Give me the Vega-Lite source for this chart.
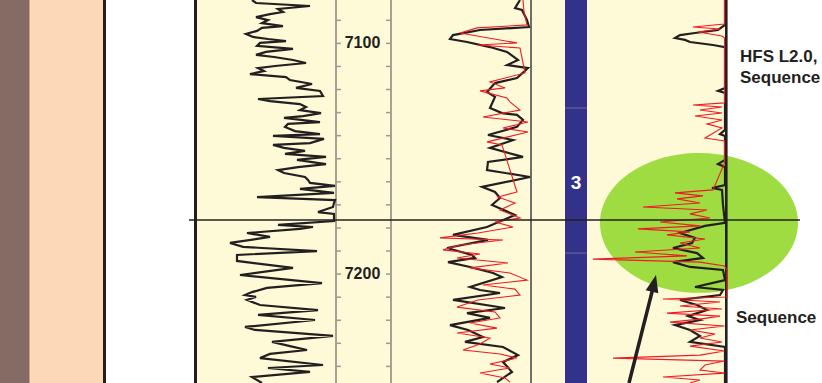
{
"$schema":"https://vega.github.io/schema/vega-lite/v6.json",
"width":822,"height":383,
"autosize":{"type":"none"},
"padding":0,
"background":"white",
"config":{"view":{"stroke":null}},
"datasets":{
"zones":[{"zone":"facies A","x0":0,"x1":29},{"zone":"facies B","x0":29,"x1":103},{"zone":"border L","x0":103,"x1":106},{"zone":"border R","x0":194,"x1":197},{"zone":"log panel","x0":197,"x1":726},{"zone":"sequence 3","x0":565,"x1":587}],
"ticks":[{"d":7090},{"d":7100},{"d":7110},{"d":7120},{"d":7130},{"d":7140},{"d":7150},{"d":7160},{"d":7170},{"d":7180},{"d":7190},{"d":7200},{"d":7210},{"d":7220},{"d":7230},{"d":7240}],
"gr":[{"d":7081.2,"v":252},{"d":7082.5,"v":256},{"d":7083.8,"v":310},{"d":7085.1,"v":278},{"d":7086.4,"v":283},{"d":7087.3,"v":270},{"d":7088.6,"v":256},{"d":7089.9,"v":268},{"d":7091.2,"v":262},{"d":7092.5,"v":283},{"d":7093.3,"v":262},{"d":7094.6,"v":257},{"d":7095.9,"v":246},{"d":7097.2,"v":253},{"d":7098.1,"v":268},{"d":7099.0,"v":286},{"d":7099.8,"v":260},{"d":7101.1,"v":257},{"d":7102.4,"v":293},{"d":7103.7,"v":266},{"d":7105.0,"v":256},{"d":7105.9,"v":274},{"d":7107.2,"v":293},{"d":7108.5,"v":306},{"d":7109.8,"v":275},{"d":7110.7,"v":258},{"d":7112.0,"v":264},{"d":7113.3,"v":250},{"d":7114.6,"v":286},{"d":7115.9,"v":290},{"d":7117.6,"v":312},{"d":7119.3,"v":296},{"d":7120.6,"v":320},{"d":7122.8,"v":323},{"d":7124.1,"v":258},{"d":7125.0,"v":270},{"d":7126.3,"v":300},{"d":7127.6,"v":306},{"d":7128.9,"v":300},{"d":7130.2,"v":321},{"d":7131.5,"v":303},{"d":7132.3,"v":284},{"d":7134.1,"v":320},{"d":7134.9,"v":288},{"d":7136.2,"v":285},{"d":7138.0,"v":295},{"d":7139.3,"v":320},{"d":7140.1,"v":273},{"d":7141.4,"v":324},{"d":7143.2,"v":310},{"d":7144.0,"v":273},{"d":7145.3,"v":284},{"d":7146.6,"v":305},{"d":7147.9,"v":285},{"d":7149.2,"v":326},{"d":7150.5,"v":297},{"d":7152.3,"v":326},{"d":7153.6,"v":298},{"d":7154.9,"v":278},{"d":7156.2,"v":284},{"d":7157.9,"v":305},{"d":7159.2,"v":308},{"d":7160.5,"v":310},{"d":7161.8,"v":335},{"d":7163.1,"v":300},{"d":7164.8,"v":334},{"d":7166.6,"v":257},{"d":7167.9,"v":335},{"d":7169.2,"v":334},{"d":7170.9,"v":333},{"d":7173.1,"v":318},{"d":7173.9,"v":334},{"d":7177.0,"v":334},{"d":7178.7,"v":278},{"d":7179.6,"v":313},{"d":7180.4,"v":300},{"d":7182.2,"v":247},{"d":7183.9,"v":270},{"d":7186.5,"v":230},{"d":7188.2,"v":243},{"d":7190.0,"v":317},{"d":7191.7,"v":237},{"d":7194.3,"v":237},{"d":7197.3,"v":293},{"d":7200.4,"v":240},{"d":7203.9,"v":322},{"d":7206.0,"v":267},{"d":7207.8,"v":252},{"d":7209.1,"v":245},{"d":7209.9,"v":256},{"d":7211.2,"v":247},{"d":7213.4,"v":260},{"d":7215.6,"v":318},{"d":7217.7,"v":258},{"d":7219.9,"v":315},{"d":7222.9,"v":245},{"d":7224.2,"v":255},{"d":7226.8,"v":333},{"d":7229.4,"v":272},{"d":7231.2,"v":290},{"d":7232.9,"v":307},{"d":7234.6,"v":270},{"d":7236.4,"v":260},{"d":7239.4,"v":323},{"d":7240.7,"v":268},{"d":7242.4,"v":310},{"d":7244.6,"v":252},{"d":7247.2,"v":262}],
"t2b":[{"d":7081.2,"v":520},{"d":7084.7,"v":515},{"d":7085.5,"v":522},{"d":7089.9,"v":527},{"d":7092.9,"v":529},{"d":7094.2,"v":480},{"d":7096.4,"v":453},{"d":7098.1,"v":450},{"d":7099.4,"v":467},{"d":7101.6,"v":490},{"d":7103.7,"v":507},{"d":7107.2,"v":518},{"d":7109.4,"v":507},{"d":7110.7,"v":528},{"d":7115.0,"v":517},{"d":7117.2,"v":495},{"d":7121.1,"v":487},{"d":7123.2,"v":495},{"d":7128.0,"v":490},{"d":7130.2,"v":502},{"d":7131.0,"v":517},{"d":7133.2,"v":523},{"d":7136.2,"v":517},{"d":7139.7,"v":488},{"d":7141.9,"v":513},{"d":7145.3,"v":490},{"d":7149.2,"v":523},{"d":7151.4,"v":488},{"d":7154.9,"v":487},{"d":7157.9,"v":530},{"d":7162.2,"v":482},{"d":7164.4,"v":495},{"d":7167.0,"v":500},{"d":7170.0,"v":492},{"d":7174.4,"v":515},{"d":7179.6,"v":487},{"d":7183.0,"v":453},{"d":7185.2,"v":488},{"d":7188.7,"v":447},{"d":7191.7,"v":472},{"d":7193.0,"v":475},{"d":7194.8,"v":448},{"d":7196.9,"v":470},{"d":7199.5,"v":493},{"d":7201.3,"v":502},{"d":7205.6,"v":470},{"d":7206.9,"v":480},{"d":7208.2,"v":500},{"d":7211.2,"v":453},{"d":7214.7,"v":505},{"d":7216.9,"v":467},{"d":7219.0,"v":490},{"d":7222.1,"v":450},{"d":7224.2,"v":468},{"d":7227.3,"v":483},{"d":7229.4,"v":465},{"d":7231.6,"v":503},{"d":7235.1,"v":518},{"d":7238.1,"v":503},{"d":7242.4,"v":512},{"d":7246.8,"v":497}],
"t2r":[{"d":7081.2,"v":523},{"d":7086.4,"v":524},{"d":7092.0,"v":527},{"d":7093.3,"v":477},{"d":7095.5,"v":460},{"d":7099.8,"v":517},{"d":7100.7,"v":478},{"d":7102.0,"v":520},{"d":7112.8,"v":525},{"d":7116.7,"v":490},{"d":7119.3,"v":505},{"d":7120.6,"v":480},{"d":7123.7,"v":507},{"d":7125.4,"v":510},{"d":7128.9,"v":520},{"d":7131.9,"v":483},{"d":7134.1,"v":528},{"d":7136.7,"v":503},{"d":7138.4,"v":528},{"d":7142.7,"v":487},{"d":7144.0,"v":502},{"d":7164.4,"v":517},{"d":7166.6,"v":498},{"d":7169.2,"v":515},{"d":7172.2,"v":500},{"d":7175.7,"v":520},{"d":7177.4,"v":495},{"d":7179.6,"v":513},{"d":7182.2,"v":478},{"d":7184.3,"v":440},{"d":7185.2,"v":503},{"d":7187.4,"v":460},{"d":7189.5,"v":443},{"d":7191.3,"v":480},{"d":7193.0,"v":457},{"d":7195.2,"v":508},{"d":7197.3,"v":470},{"d":7199.5,"v":510},{"d":7202.6,"v":527},{"d":7204.7,"v":483},{"d":7206.5,"v":515},{"d":7209.1,"v":520},{"d":7211.2,"v":478},{"d":7214.3,"v":457},{"d":7216.4,"v":495},{"d":7219.0,"v":500},{"d":7221.2,"v":470},{"d":7223.4,"v":497},{"d":7225.5,"v":457},{"d":7227.7,"v":490},{"d":7230.3,"v":480},{"d":7232.9,"v":463},{"d":7234.6,"v":500},{"d":7236.4,"v":517},{"d":7239.0,"v":490},{"d":7240.7,"v":510},{"d":7242.9,"v":480},{"d":7245.0,"v":505},{"d":7246.8,"v":510}],
"t4b":[{"d":7081.2,"v":725},{"d":7092.0,"v":725},{"d":7094.2,"v":718},{"d":7095.5,"v":695},{"d":7096.4,"v":680},{"d":7097.7,"v":675},{"d":7098.5,"v":685},{"d":7099.4,"v":690},{"d":7100.7,"v":713},{"d":7101.6,"v":725},{"d":7119.3,"v":725},{"d":7120.6,"v":718},{"d":7121.5,"v":725},{"d":7137.5,"v":725},{"d":7139.3,"v":720},{"d":7140.1,"v":725},{"d":7150.5,"v":725},{"d":7152.3,"v":718},{"d":7153.6,"v":725},{"d":7161.4,"v":725},{"d":7162.7,"v":712},{"d":7163.5,"v":722},{"d":7170.0,"v":723},{"d":7177.8,"v":725},{"d":7179.1,"v":705},{"d":7182.2,"v":680},{"d":7184.3,"v":695},{"d":7186.5,"v":692},{"d":7188.7,"v":673},{"d":7190.9,"v":697},{"d":7193.0,"v":703},{"d":7194.8,"v":673},{"d":7196.9,"v":690},{"d":7198.2,"v":723},{"d":7202.6,"v":725},{"d":7205.6,"v":695},{"d":7206.9,"v":723},{"d":7209.1,"v":720},{"d":7211.2,"v":680},{"d":7213.4,"v":697},{"d":7215.6,"v":707},{"d":7218.2,"v":688},{"d":7219.9,"v":700},{"d":7222.1,"v":675},{"d":7224.2,"v":690},{"d":7226.8,"v":700},{"d":7229.4,"v":690},{"d":7231.6,"v":725},{"d":7247.2,"v":725}],
"t4r":[{"d":7081.2,"v":724.5},{"d":7091.6,"v":724.5},{"d":7092.9,"v":693},{"d":7093.8,"v":720},{"d":7095.1,"v":698},{"d":7096.8,"v":722},{"d":7097.7,"v":724.5},{"d":7125.8,"v":724.5},{"d":7126.7,"v":693},{"d":7127.6,"v":722},{"d":7128.9,"v":700},{"d":7130.2,"v":722},{"d":7131.5,"v":695},{"d":7133.2,"v":722},{"d":7134.9,"v":707},{"d":7136.7,"v":722},{"d":7141.0,"v":705},{"d":7142.3,"v":724.5},{"d":7151.8,"v":724.5},{"d":7163.5,"v":713},{"d":7164.8,"v":675},{"d":7166.1,"v":703},{"d":7167.4,"v":677},{"d":7169.2,"v":700},{"d":7170.9,"v":643},{"d":7172.2,"v":707},{"d":7173.9,"v":690},{"d":7175.7,"v":710},{"d":7177.4,"v":660},{"d":7179.1,"v":700},{"d":7180.4,"v":638},{"d":7181.7,"v":690},{"d":7183.0,"v":667},{"d":7184.8,"v":705},{"d":7186.5,"v":680},{"d":7188.7,"v":700},{"d":7190.4,"v":635},{"d":7192.1,"v":687},{"d":7193.5,"v":593},{"d":7194.8,"v":700},{"d":7196.5,"v":724.5},{"d":7198.2,"v":727},{"d":7209.9,"v":727},{"d":7210.8,"v":663},{"d":7212.1,"v":720},{"d":7213.8,"v":680},{"d":7215.1,"v":722},{"d":7216.9,"v":667},{"d":7218.2,"v":720},{"d":7219.5,"v":700},{"d":7220.8,"v":670},{"d":7222.5,"v":724.5},{"d":7224.2,"v":690},{"d":7226.0,"v":715},{"d":7227.7,"v":700},{"d":7229.4,"v":722},{"d":7231.2,"v":690},{"d":7233.3,"v":724.5},{"d":7235.1,"v":700},{"d":7236.4,"v":613},{"d":7237.7,"v":724.5},{"d":7239.4,"v":705},{"d":7241.6,"v":700},{"d":7242.9,"v":724.5},{"d":7244.6,"v":663},{"d":7245.9,"v":700},{"d":7247.2,"v":690}]
},
"layer":[
{"data":{"name":"zones"},"mark":{"type":"rect"},
 "encoding":{
  "x":{"field":"x0","type":"quantitative","scale":{"domain":[0,822],"nice":false,"zero":false},"axis":null},
  "x2":{"field":"x1"},
  "y":{"datum":7081.2,"type":"quantitative","scale":{"domain":[7081.2,7247.2],"reverse":true,"nice":false,"zero":false},"axis":null},
  "y2":{"datum":7247.2},
  "color":{"field":"zone","type":"nominal","legend":null,"scale":{"domain":["facies A","facies B","border L","border R","log panel","sequence 3"],"range":["#866b65","#fcd8b9","#231f20","#231f20","#fefad7","#333189"]}}}},
{"data":{"values":[{"x":29.5}]},"mark":{"type":"rule","color":"#c9a090","strokeWidth":1},
 "encoding":{"x":{"field":"x","type":"quantitative"}}},
{"data":{"values":[{"x":336},{"x":391}]},"mark":{"type":"rule","color":"#4a4a4a","strokeWidth":1},
 "encoding":{"x":{"field":"x","type":"quantitative"}}},
{"data":{"values":[{"x":531}]},"mark":{"type":"rule","color":"#6d6d6d","strokeWidth":2},
 "encoding":{"x":{"field":"x","type":"quantitative"}}},
{"data":{"values":[{"d":7128.0},{"d":7190.9}]},"mark":{"type":"rule","color":"#6c6ca8","strokeWidth":1},
 "encoding":{"x":{"datum":565},"x2":{"datum":587},"y":{"field":"d","type":"quantitative"}}},
{"data":{"name":"ticks"},"mark":{"type":"rule","color":"#9a9a9a","strokeWidth":1.5},
 "encoding":{"x":{"datum":336},"x2":{"datum":341},"y":{"field":"d","type":"quantitative"}}},
{"data":{"name":"ticks"},"mark":{"type":"rule","color":"#9a9a9a","strokeWidth":1.5},
 "encoding":{"x":{"datum":386},"x2":{"datum":391},"y":{"field":"d","type":"quantitative"}}},
{"data":{"values":[{"d":7100,"label":"7100"},{"d":7200,"label":"7200"}]},
 "mark":{"type":"text","font":"Liberation Sans","fontWeight":"bold","fontSize":16,"color":"#231f20","align":"center","baseline":"middle"},
 "encoding":{"x":{"datum":362.5},"y":{"field":"d","type":"quantitative"},"text":{"field":"label"}}},
{"data":{"values":[{"x":699,"d":7177.8}]},
 "mark":{"type":"point","shape":"M -1 0 A 1 0.707 0 1 1 1 0 A 1 0.707 0 1 1 -1 0 Z","size":39204,"filled":true,"fill":"#9edc41","opacity":1,"strokeWidth":0},
 "encoding":{"x":{"field":"x","type":"quantitative"},"y":{"field":"d","type":"quantitative"}}},
{"data":{"name":"gr"},"mark":{"type":"line","color":"#231f20","strokeWidth":2.2},
 "encoding":{"x":{"field":"v","type":"quantitative"},"y":{"field":"d","type":"quantitative"},"order":{"field":"d"}}},
{"data":{"name":"t2b"},"mark":{"type":"line","color":"#231f20","strokeWidth":2.2},
 "encoding":{"x":{"field":"v","type":"quantitative"},"y":{"field":"d","type":"quantitative"},"order":{"field":"d"}}},
{"data":{"name":"t2r"},"mark":{"type":"line","color":"#ee1c24","strokeWidth":1.1},
 "encoding":{"x":{"field":"v","type":"quantitative"},"y":{"field":"d","type":"quantitative"},"order":{"field":"d"}}},
{"data":{"name":"t4b"},"mark":{"type":"line","color":"#231f20","strokeWidth":2.2},
 "encoding":{"x":{"field":"v","type":"quantitative"},"y":{"field":"d","type":"quantitative"},"order":{"field":"d"}}},
{"data":{"values":[{"x":726.3}]},"mark":{"type":"rule","color":"#231f20","strokeWidth":2.6},
 "encoding":{"x":{"field":"x","type":"quantitative"}}},
{"data":{"name":"t4r"},"mark":{"type":"line","color":"#ee1c24","strokeWidth":1.1},
 "encoding":{"x":{"field":"v","type":"quantitative"},"y":{"field":"d","type":"quantitative"},"order":{"field":"d"}}},
{"data":{"values":[{"x":189,"x2":800,"d":7176.6}]},"mark":{"type":"rule","color":"#231f20","strokeWidth":1.5},
 "encoding":{"x":{"field":"x","type":"quantitative"},"x2":{"field":"x2"},"y":{"field":"d","type":"quantitative"}}},
{"data":{"values":[{"x":629,"d":7247.2,"x2":654,"d2":7204.3}]},"mark":{"type":"rule","color":"#231f20","strokeWidth":3.5},
 "encoding":{"x":{"field":"x","type":"quantitative"},"x2":{"field":"x2"},"y":{"field":"d","type":"quantitative"},"y2":{"field":"d2"}}},
{"data":{"values":[{"x":654,"d":7204.0}]},
 "mark":{"type":"point","shape":"M 0 -1 L 0.75 1 L -0.75 1 Z","size":300,"filled":true,"fill":"#231f20","opacity":1,"strokeWidth":0,"angle":13.5},
 "encoding":{"x":{"field":"x","type":"quantitative"},"y":{"field":"d","type":"quantitative"}}},
{"data":{"values":[{"x":576,"d":7160.5,"t":"3"}]},
 "mark":{"type":"text","font":"Liberation Sans","fontWeight":"bold","fontSize":19,"color":"white","align":"center","baseline":"middle"},
 "encoding":{"x":{"field":"x","type":"quantitative"},"y":{"field":"d","type":"quantitative"},"text":{"field":"t"}}},
{"data":{"values":[{"x":740,"d":7105.9,"t":"HFS L2.0,"},{"x":740,"d":7115.0,"t":"Sequence"},{"x":736,"d":7219.0,"t":"Sequence"}]},
 "mark":{"type":"text","font":"Liberation Sans","fontWeight":"bold","fontSize":17,"color":"#231f20","align":"left","baseline":"middle"},
 "encoding":{"x":{"field":"x","type":"quantitative"},"y":{"field":"d","type":"quantitative"},"text":{"field":"t"}}}
]
}
